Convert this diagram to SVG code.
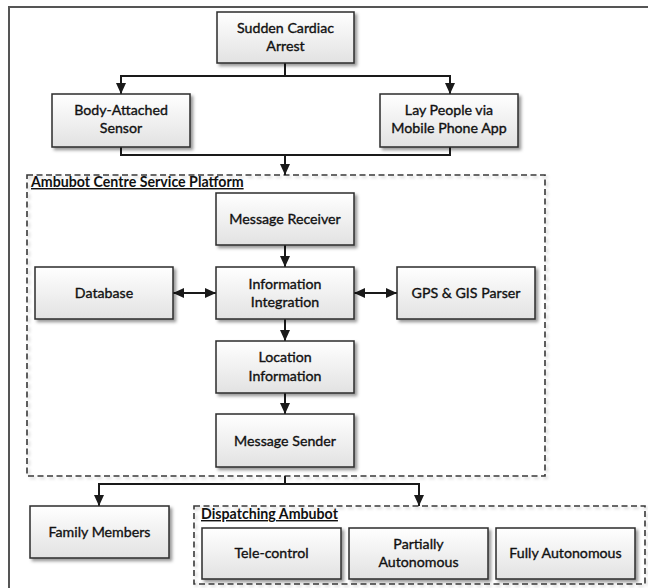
<svg xmlns="http://www.w3.org/2000/svg" width="648" height="588" viewBox="0 0 648 588">
<style>
.box{fill:url(#g);stroke:#2b2b2b;stroke-width:1.5;filter:url(#sh)}
.grp{fill:none;stroke:#3a3a3a;stroke-width:1.6;stroke-dasharray:6 3.5;filter:url(#sh2)}
.t{font-family:Lato,"Open Sans",sans-serif;font-size:14.2px;fill:#111;stroke:#111;stroke-width:0.35;text-anchor:middle}
.lbl{font-family:Lato,"Open Sans",sans-serif;font-size:14.2px;font-weight:bold;fill:#111;text-decoration:underline}
.c{fill:none;stroke:#1a1a1a;stroke-width:2}
</style>
<defs>
<linearGradient id="g" x1="0" y1="0" x2="0" y2="1">
<stop offset="0" stop-color="#ffffff"/>
<stop offset="1" stop-color="#e2e2e2"/>
</linearGradient>
<filter id="sh" x="-10%" y="-10%" width="130%" height="140%">
<feDropShadow dx="2.5" dy="2.5" stdDeviation="1.5" flood-color="#000" flood-opacity="0.4"/>
</filter>
<filter id="sh2" x="-5%" y="-5%" width="110%" height="115%">
<feDropShadow dx="2" dy="2" stdDeviation="1.5" flood-color="#000" flood-opacity="0.2"/>
</filter>
<marker id="a" markerUnits="userSpaceOnUse" markerWidth="12" markerHeight="10" refX="11" refY="5" orient="auto-start-reverse">
<path d="M0,0 L11,5 L0,10 z" fill="#1a1a1a"/>
</marker>
</defs>
<rect width="648" height="588" fill="#fff"/>
<path d="M9,588 V7 H648" fill="none" stroke="#555" stroke-width="2"/>

<g id="platform">
<rect class="grp" x="27" y="175" width="518" height="301"/>
<text class="lbl" x="31" y="187">Ambubot Centre Service Platform</text>
</g>
<g id="dispatching">
<rect class="grp" x="194" y="506" width="451" height="78"/>
<text class="lbl" x="201" y="519">Dispatching Ambubot</text>
</g>

<g id="connectors">
<path class="c" d="M285,63 V76 H121 V94" marker-end="url(#a)"/>
<path class="c" d="M285,76 H450 V94" marker-end="url(#a)"/>
<path class="c" d="M121,147 V155 H450 V147"/>
<path class="c" d="M285,155 V175" marker-end="url(#a)"/>
<path class="c" d="M285,245 V267" marker-end="url(#a)"/>
<path class="c" d="M173,293 H216" marker-start="url(#a)" marker-end="url(#a)"/>
<path class="c" d="M354,293 H397" marker-start="url(#a)" marker-end="url(#a)"/>
<path class="c" d="M285,319 V341" marker-end="url(#a)"/>
<path class="c" d="M285,393 V414" marker-end="url(#a)"/>
<path class="c" d="M285,476 V484 H99 V506" marker-end="url(#a)"/>
<path class="c" d="M285,484 H419 V506" marker-end="url(#a)"/>
</g>

<g id="sca"><rect class="box" x="217" y="12" width="137" height="51"/>
<text class="t" x="285.5" y="33">Sudden Cardiac</text><text class="t" x="285.5" y="51">Arrest</text></g>
<g id="body"><rect class="box" x="52" y="94" width="138" height="53"/>
<text class="t" x="121" y="115">Body-Attached</text><text class="t" x="121" y="133">Sensor</text></g>
<g id="lay"><rect class="box" x="380" y="94" width="138" height="53"/>
<text class="t" x="449" y="115">Lay People via</text><text class="t" x="449" y="133">Mobile Phone App</text></g>
<g id="receiver"><rect class="box" x="216" y="193" width="138" height="52"/>
<text class="t" x="285" y="224">Message Receiver</text></g>
<g id="database"><rect class="box" x="35" y="267" width="138" height="52"/>
<text class="t" x="104" y="298">Database</text></g>
<g id="integration"><rect class="box" x="216" y="267" width="138" height="52"/>
<text class="t" x="285" y="289">Information</text><text class="t" x="285" y="307">Integration</text></g>
<g id="gps"><rect class="box" x="397" y="267" width="138" height="52"/>
<text class="t" x="466" y="298">GPS &amp; GIS Parser</text></g>
<g id="location"><rect class="box" x="216" y="341" width="138" height="52"/>
<text class="t" x="285" y="362">Location</text><text class="t" x="285" y="381">Information</text></g>
<g id="sender"><rect class="box" x="216" y="414" width="138" height="53"/>
<text class="t" x="285" y="446">Message Sender</text></g>
<g id="family"><rect class="box" x="30" y="506" width="139" height="52"/>
<text class="t" x="99.5" y="537">Family Members</text></g>
<g id="tele"><rect class="box" x="202" y="528" width="139" height="51"/>
<text class="t" x="271.5" y="558">Tele-control</text></g>
<g id="partial"><rect class="box" x="349" y="528" width="139" height="51"/>
<text class="t" x="418.5" y="549">Partially</text><text class="t" x="418.5" y="567">Autonomous</text></g>
<g id="fully"><rect class="box" x="496" y="528" width="139" height="51"/>
<text class="t" x="565.5" y="558">Fully Autonomous</text></g>
</svg>
